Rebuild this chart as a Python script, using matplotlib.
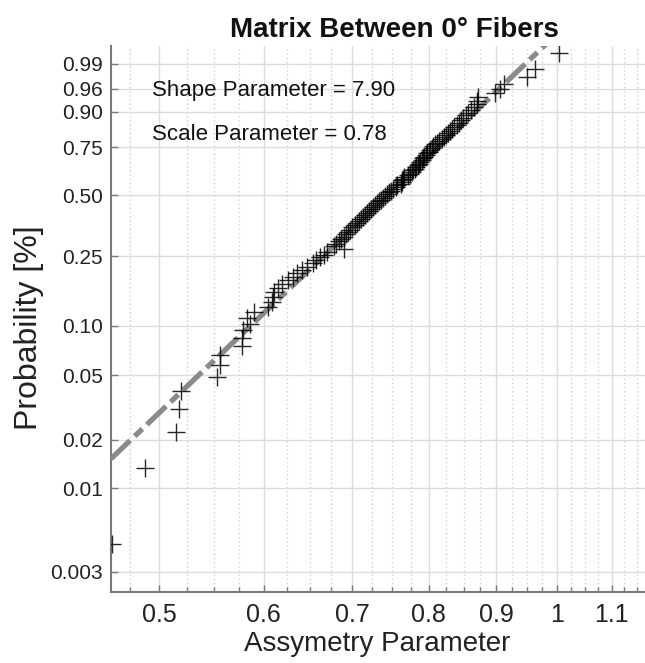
import numpy as np
import matplotlib
matplotlib.use('Agg')
import matplotlib.pyplot as plt
from matplotlib.ticker import FixedLocator, FixedFormatter, NullLocator, NullFormatter

plt.rcParams['font.family'] = ['Liberation Sans', 'DejaVu Sans']

# ---------------- data ----------------
title = 'Matrix Between 0° Fibers'
x_label = 'Assymetry Parameter'
y_label = 'Probability [%]'
shape_param = 7.90
scale_param = 0.78

# sorted sample values
asym = [0.461, 0.488, 0.515, 0.518, 0.520, 0.553, 0.556, 0.556, 0.578, 0.578,
        0.579, 0.586, 0.583, 0.590, 0.605, 0.609, 0.610, 0.611, 0.615, 0.620,
        0.626, 0.631, 0.636, 0.642, 0.647, 0.654, 0.657, 0.662, 0.666, 0.670,
        0.690, 0.678, 0.681, 0.684, 0.687, 0.690, 0.693, 0.695, 0.698, 0.700,
        0.703, 0.706, 0.708, 0.711, 0.713, 0.716, 0.718, 0.721, 0.724, 0.726,
        0.729, 0.731, 0.734, 0.736, 0.739, 0.741, 0.744, 0.746, 0.749, 0.752,
        0.755, 0.757, 0.762, 0.763, 0.764, 0.765, 0.766, 0.771, 0.774, 0.777,
        0.779, 0.781, 0.783, 0.785, 0.786, 0.788, 0.790, 0.792, 0.794, 0.796,
        0.798, 0.800, 0.802, 0.804, 0.806, 0.809, 0.812, 0.815, 0.818, 0.821,
        0.824, 0.827, 0.830, 0.833, 0.836, 0.840, 0.843, 0.846, 0.849, 0.853,
        0.857, 0.861, 0.865, 0.870, 0.870, 0.871, 0.898, 0.905, 0.912, 0.950,
        0.963, 1.003]

x_ticks = [0.5, 0.6, 0.7, 0.8, 0.9, 1.0, 1.1]
x_tick_labels = ['0.5', '0.6', '0.7', '0.8', '0.9', '1', '1.1']
x_minor = [0.475, 0.525, 0.55, 0.575, 0.625, 0.65, 0.675, 0.725, 0.75, 0.775,
           0.825, 0.85, 0.875, 0.925, 0.95, 0.975, 1.025, 1.05, 1.075, 1.125, 1.15]
y_ticks = [0.003, 0.01, 0.02, 0.05, 0.10, 0.25, 0.50, 0.75, 0.90, 0.96, 0.99]
y_tick_labels = ['0.003', '0.01', '0.02', '0.05', '0.10', '0.25', '0.50',
                 '0.75', '0.90', '0.96', '0.99']
x_lim = (0.4599, 1.166)
y_lim = (0.002245, 0.99745)

# plotting positions (median-rank style used by probability plots)
n = len(asym)
prob = (np.arange(1, n + 1) - 0.5) / n


# ---------------- Weibull probability scale ----------------
def fwd(p):
    p = np.clip(p, 1e-12, 1 - 1e-12)
    return np.log(-np.log1p(-p))


def inv(w):
    return -np.expm1(-np.exp(w))


fig = plt.figure(figsize=(6.45, 6.63), dpi=100)
ax = fig.add_axes([111 / 645, 71 / 663, 534 / 645, 546 / 663])
ax.set_xscale('log')
ax.set_yscale('function', functions=(fwd, inv))
ax.set_xlim(*x_lim)
ax.set_ylim(*y_lim)

# grids
ax.set_axisbelow(True)
ax.xaxis.set_major_locator(FixedLocator(x_ticks))
ax.xaxis.set_major_formatter(FixedFormatter(x_tick_labels))
ax.xaxis.set_minor_locator(FixedLocator(x_minor))
ax.xaxis.set_minor_formatter(NullFormatter())
ax.yaxis.set_major_locator(FixedLocator(y_ticks))
ax.yaxis.set_major_formatter(FixedFormatter(y_tick_labels))
ax.yaxis.set_minor_locator(NullLocator())
ax.grid(which='major', color='#dcdcdc', lw=1.0, ls='-')
ax.xaxis.grid(which='minor', color='#cfcfcf', lw=1.0, ls=(0, (1, 2)))

# fitted line (dashed grey over full range), solid red between 25% and 75%
xs = np.geomspace(x_lim[0], x_lim[1], 400)
ps = 1 - np.exp(-(xs / scale_param) ** shape_param)
pr = np.linspace(0.25, 0.75, 100)
xr = scale_param * (-np.log(1 - pr)) ** (1 / shape_param)
ax.plot(xr, pr, color='#a03040', lw=2.2, alpha=0.85, zorder=2)
ax.plot(xs, ps, color='#8a8a8a', lw=3.8, ls=(0, (5.0, 1.2, 2.0, 1.2)),
        solid_capstyle='butt', dash_capstyle='butt', zorder=3)

# data
ax.plot(asym, prob, ls='none', marker='+', ms=13, mew=1.0, color='black',
        alpha=0.85, zorder=4)

# spines / ticks
for s in ['top', 'right']:
    ax.spines[s].set_visible(False)
for s in ['left', 'bottom']:
    ax.spines[s].set_color('#7a7a7a')
    ax.spines[s].set_linewidth(1.5)
ax.tick_params(axis='both', which='both', direction='in', color='#7a7a7a')
ax.tick_params(axis='both', which='major', length=5, width=1)
ax.tick_params(axis='x', which='minor', length=3.5, width=1)
ax.tick_params(axis='y', which='major', labelsize=15, pad=6, labelcolor='#222222')
ax.tick_params(axis='x', which='major', labelsize=18, pad=8, labelcolor='#222222')

# labels
ax.set_xlabel(x_label, fontsize=20, color='#222222')
ax.xaxis.set_label_coords(0.498, -0.071)
ax.set_ylabel(y_label, fontsize=23, color='#222222')
ax.yaxis.set_label_coords(-0.125, 0.485)

fig.text(394 / 645, 1 - 37 / 663, title, ha='center', va='baseline',
         fontsize=20, fontweight='bold', color='#111111')

ax.text(0.0768, 0.919, f'Shape Parameter = {shape_param:.2f}', transform=ax.transAxes,
        va='center', ha='left', fontsize=16, color='#111111')
ax.text(0.0768, 0.837, f'Scale Parameter = {scale_param:.2f}', transform=ax.transAxes,
        va='center', ha='left', fontsize=16, color='#111111')

fig.savefig('out.png', dpi=100)
